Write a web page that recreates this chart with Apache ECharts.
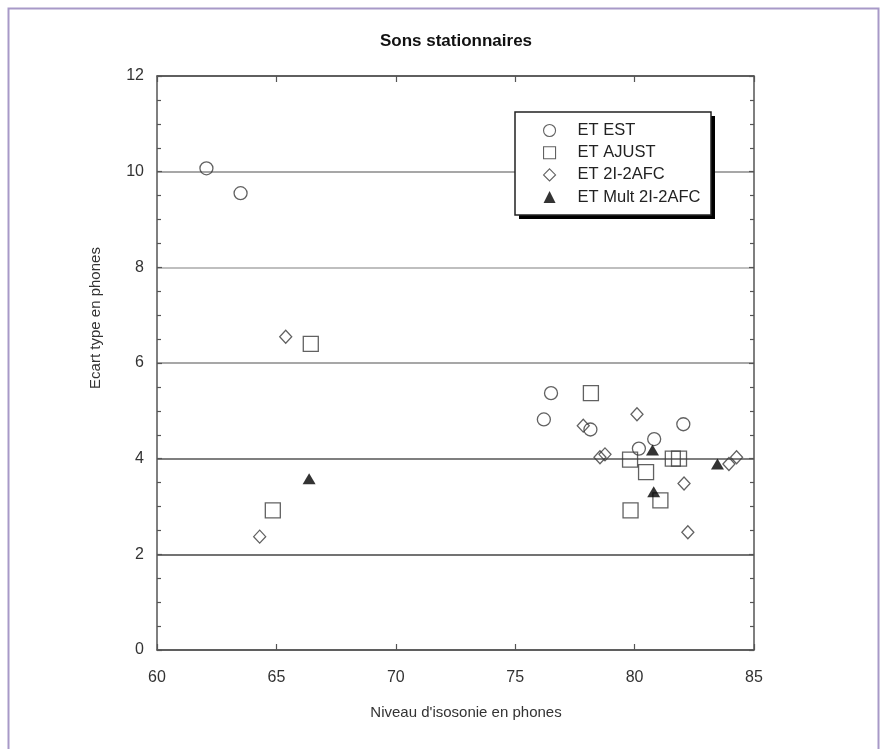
<!DOCTYPE html>
<html>
<head>
<meta charset="utf-8">
<script src="https://cdn.jsdelivr.net/npm/echarts@6/dist/echarts.min.js"></script>
<style>
html,body{margin:0;padding:0;background:#fff;}
#chart{width:882px;height:749px;}
</style>
</head>
<body>
<div id="chart"></div>
<script>
// ---- Data ----
const seriesNames = ['ET EST', 'ET AJUST', 'ET 2I-2AFC', 'ET Mult 2I-2AFC'];
const estX = [62.07, 63.5, 76.5, 76.2, 78.15, 80.18, 80.82, 82.04];
const estY = [10.07, 9.55, 5.37, 4.82, 4.61, 4.21, 4.41, 4.72];
const ajustX = [66.44, 64.85, 78.17, 79.81, 80.48, 81.08, 79.83, 81.6, 81.86];
const ajustY = [6.40, 2.92, 5.37, 3.98, 3.72, 3.13, 2.92, 4.0, 4.0];
const afcX = [65.39, 64.3, 77.85, 78.55, 78.76, 80.1, 82.07, 82.23, 83.95, 84.27];
const afcY = [6.55, 2.37, 4.69, 4.03, 4.09, 4.93, 3.48, 2.46, 3.89, 4.03];
const multX = [66.37, 80.75, 80.8, 83.47];
const multY = [3.58, 4.18, 3.31, 3.89];
const xTicks = [60, 65, 70, 75, 80, 85];
const yTicks = [0, 2, 4, 6, 8, 10, 12];

const pairs = (xs, ys) => xs.map((x, i) => [x, ys[i]]);

const chart = echarts.init(document.getElementById('chart'), null, {renderer: 'canvas'});
const FONT = 'Liberation Sans, Arial, sans-serif';
const axisCol = '#555';
const hollow = {color: 'rgba(255,255,255,0)', borderColor: '#3a3a3a', borderWidth: 1.3};

const baseX = {
  type: 'value', min: xTicks[0], max: xTicks[xTicks.length - 1], interval: 5,
  axisLine: {show: true, onZero: false, lineStyle: {color: axisCol, width: 1.5}},
  axisTick: {show: true, inside: true, length: 6, lineStyle: {color: axisCol, width: 1.2}},
  splitLine: {show: false}
};
const baseY = {
  type: 'value', min: yTicks[0], max: yTicks[yTicks.length - 1], interval: 2,
  axisLine: {show: true, onZero: false, lineStyle: {color: axisCol, width: 1.5}},
  axisTick: {show: true, inside: true, length: 5, lineStyle: {color: axisCol, width: 1.2}},
  minorTick: {show: true, splitNumber: 4, length: 4, lineStyle: {color: axisCol, width: 1.2}},
  splitLine: {show: false}
};

const option = {
  backgroundColor: '#fff',
  animation: false,
  grid: {left: 157, right: 128, top: 76, bottom: 99, containLabel: false},
  xAxis: [
    Object.assign({}, baseX, {position: 'bottom',
      axisLabel: {show: true, margin: 20, color: '#333', fontFamily: FONT, fontSize: 16}}),
    Object.assign({}, baseX, {position: 'top', axisLabel: {show: false}})
  ],
  yAxis: [
    Object.assign({}, baseY, {position: 'left',
      axisLabel: {show: true, margin: 13, color: '#333', fontFamily: FONT, fontSize: 16},
      splitLine: {show: true, lineStyle: {width: 1.5,
        color: ['#555', '#444', '#555', '#8a8a8a', '#aaa', '#8a8a8a', '#555']}}}),
    Object.assign({}, baseY, {position: 'right', axisLabel: {show: false}})
  ],
  legend: {
    orient: 'vertical',
    left: 543, top: 122,
    padding: 0,
    itemWidth: 12, itemHeight: 12, itemGap: 5.2,
    backgroundColor: 'transparent',
    borderWidth: 0,
    z: 10,
    itemStyle: {borderWidth: 1.1},
    textStyle: {color: '#222', fontFamily: FONT, fontSize: 16.5, lineHeight: 16, padding: [0, 0, 0, 17]},
    data: seriesNames
  },
  graphic: [
    {type: 'rect', left: 6, top: 6, shape: {width: 870, height: 770},
      style: {fill: 'none', stroke: '#a899c8', lineWidth: 2}, silent: true},
    {type: 'rect', x: 519, y: 116, z: 5, shape: {width: 196, height: 103},
      style: {fill: '#000'}, silent: true},
    {type: 'rect', x: 515, y: 112, z: 6, shape: {width: 196, height: 103},
      style: {fill: '#fff', stroke: '#222', lineWidth: 1.5}, silent: true},
    {type: 'text', x: 456, y: 41, style: {text: 'Sons stationnaires', fontFamily: FONT,
      fontSize: 17, fontWeight: 'bold', fill: '#111', align: 'center', verticalAlign: 'middle'}},
    {type: 'text', x: 96, y: 318, rotation: Math.PI / 2, style: {text: 'Ecart type en phones',
      fontFamily: FONT, fontSize: 15, fill: '#333', align: 'center', verticalAlign: 'middle'}},
    {type: 'text', x: 466, y: 713, style: {text: "Niveau d'isosonie en phones",
      fontFamily: FONT, fontSize: 15, fill: '#333', align: 'center', verticalAlign: 'middle'}}
  ],
  series: [
    {name: seriesNames[0], type: 'scatter', symbol: 'circle', symbolSize: 13,
      itemStyle: hollow, data: pairs(estX, estY)},
    {name: seriesNames[1], type: 'scatter', symbol: 'rect', symbolSize: 15,
      itemStyle: hollow, data: pairs(ajustX, ajustY)},
    {name: seriesNames[2], type: 'scatter', symbol: 'diamond', symbolSize: [12, 13],
      itemStyle: hollow, data: pairs(afcX, afcY)},
    {name: seriesNames[3], type: 'scatter', symbol: 'triangle', symbolSize: [13, 11],
      itemStyle: {color: '#000'}, data: pairs(multX, multY)}
  ]
};
chart.setOption(option);
</script>
</body>
</html>
